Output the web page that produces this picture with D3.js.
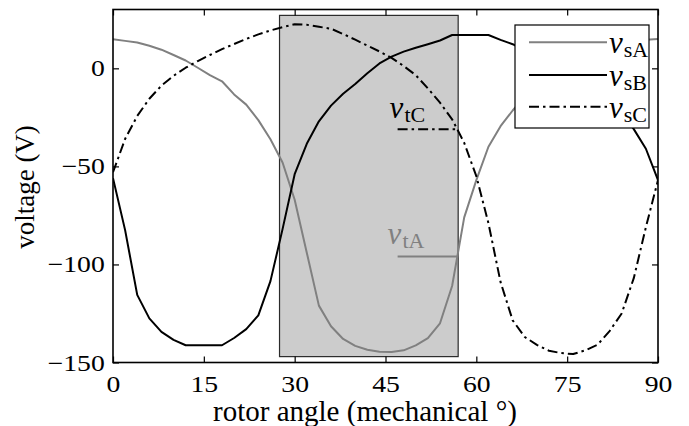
<!DOCTYPE html>
<html>
<head>
<meta charset="utf-8">
<script src="https://cdn.jsdelivr.net/npm/d3@7/dist/d3.min.js"></script>
<style>
  body { margin: 0; background: #fff; }
  svg { display: block; }
  svg text { font-family: "Liberation Serif", "Times New Roman", Times, serif; }
</style>
</head>
<body>
<svg id="chart" width="689" height="426"></svg>
<script>
// Rotor angle samples (mechanical degrees)
const angles = [0, 2, 4, 6, 8, 10, 12, 14, 16, 18, 20, 22, 24, 26, 28, 30, 32, 34, 36, 38, 40, 42, 44,
  46, 48, 50, 52, 54, 56, 58, 60, 62, 64, 66, 68, 70, 72, 74, 76, 78, 80, 82, 84, 86, 88, 90];

// Stator phase voltages (V)
const vsA = [14.8, 14.0, 13.2, 11.5, 9.5, 6.8, 4.0, 0.3, -3.5, -6.6, -13.3, -18.5, -26.4, -36.2, -48, -67,
  -94, -121, -131.5, -138, -141.5, -143.5, -144.5, -144.6, -143.8, -141.3, -137.6, -130, -111, -76,
  -57, -40, -29.5, -21.5, -14.5, -8.5, -3.5, 1, 4.5, 7.5, 10, 12, 13.5, 14.5, 14.6, 15];
const vsB = [-56, -82.5, -115.5, -127.5, -134.4, -138.5, -141.2, -141.2, -141.2, -141.2, -137.5, -133, -126,
  -108.5, -82, -54, -38.5, -27, -19, -13, -8, -2.5, 2.5, 6, 8.5, 10.5, 12.3, 14.2, 17, 17, 17, 17,
  14.5, 12.3, 9, 6.5, 3.5, 0, -3.5, -7, -12, -17, -23, -31, -41, -57];
const vsC = [-53, -36, -24.3, -15.5, -8.8, -3.8, 0.3, 3.7, 6.8, 9.8, 12.4, 15, 17.3, 19.3, 21, 22.5, 22.2,
  21.2, 20.2, 17.5, 14.6, 11.6, 8.6, 5.3, 1.2, -3.5, -10.2, -17.5, -26, -38, -55, -79, -109, -128.5,
  -137, -141, -144, -145.2, -145.7, -143.8, -141, -134, -125, -107, -81, -57];

// Shaded conduction window and the terminal voltage levels inside it
const windowAngles = [27.5, 57];
const windowVolts = [27, -147];
const markAngles = [47, 57];
const vtA = -96;
const vtC = -31;

// Axis ticks
const xTicks = [0, 15, 30, 45, 60, 75, 90];
const yTicks = [-150, -100, -50, 0];

const seriesNames = ["sA", "sB", "sC"];
const seriesValues = [vsA, vsB, vsC];
const seriesColor = ["#808080", "#000000", "#000000"];
const seriesDash = [null, null, "10,4,2.5,4"];

const serif = '"Liberation Serif", "Times New Roman", Times, serif';
const svg = d3.select("#chart");
const plotLeft = 113, plotRight = 658, plotTop = 9.5, plotBottom = 362.5;

const x = d3.scaleLinear().domain([0, 90]).range([plotLeft, plotRight]);
const y = d3.scaleLinear().domain([-150, 30]).range([plotBottom, plotTop]);

svg.append("rect").attr("width", 689).attr("height", 426).attr("fill", "#fff");

svg.append("clipPath").attr("id", "plot-clip")
  .append("rect").attr("x", plotLeft).attr("y", plotTop)
  .attr("width", plotRight - plotLeft).attr("height", plotBottom - plotTop);

// Shaded window
svg.append("rect")
  .attr("x", x(windowAngles[0])).attr("y", y(windowVolts[0]))
  .attr("width", x(windowAngles[1]) - x(windowAngles[0]))
  .attr("height", y(windowVolts[1]) - y(windowVolts[0]))
  .attr("fill", "#cccccc").attr("stroke", "#2a2a2a").attr("stroke-width", 1.2);

// Phase voltage curves
const line = d3.line().x((d, i) => x(angles[i])).y(d => y(d));
const plot = svg.append("g").attr("clip-path", "url(#plot-clip)");
seriesValues.forEach((vals, k) => {
  plot.append("path").datum(vals)
    .attr("d", line)
    .attr("fill", "none")
    .attr("stroke", seriesColor[k])
    .attr("stroke-width", 2)
    .attr("stroke-linejoin", "round")
    .attr("stroke-dasharray", seriesDash[k]);
});

// Axes with inward ticks on all four sides
const tickLen = 6;
const tickStretch = 1.18;   // tick numerals are set slightly wide
const xb = d3.axisBottom(x).tickValues(xTicks).tickSizeInner(-tickLen).tickSizeOuter(0).tickPadding(13);
const xt = d3.axisTop(x).tickValues(xTicks).tickSizeInner(-tickLen).tickSizeOuter(0).tickFormat("");
const yl = d3.axisLeft(y).tickValues(yTicks).tickSizeInner(-tickLen).tickSizeOuter(0).tickPadding(7);
const yr = d3.axisRight(y).tickValues(yTicks).tickSizeInner(-tickLen).tickSizeOuter(0).tickFormat("");

function styleAxis(g) {
  g.attr("font-family", serif).attr("font-size", 23.5);
  g.select(".domain").remove();
  g.selectAll(".tick line").attr("stroke", "#000").attr("stroke-width", 1.2);
  g.selectAll(".tick text").attr("fill", "#000")
    .attr("transform", `scale(${tickStretch},1)`);
}
const gxb = svg.append("g").attr("transform", `translate(0,${plotBottom})`).call(xb).call(styleAxis);
gxb.selectAll(".tick text").attr("dy", "0.71em");
svg.append("g").attr("transform", `translate(0,${plotTop})`).call(xt).call(styleAxis);
svg.append("g").attr("transform", `translate(${plotLeft},0)`).call(yl).call(styleAxis);
svg.append("g").attr("transform", `translate(${plotRight},0)`).call(yr).call(styleAxis);

svg.append("rect")
  .attr("x", plotLeft).attr("y", plotTop)
  .attr("width", plotRight - plotLeft).attr("height", plotBottom - plotTop)
  .attr("fill", "none").attr("stroke", "#000").attr("stroke-width", 1.6);

// Axis titles
svg.append("text")
  .attr("x", 365).attr("y", 421)
  .attr("text-anchor", "middle")
  .attr("font-family", serif)
  .attr("font-size", 29)
  .text("rotor angle (mechanical °)");

svg.append("text")
  .attr("transform", "translate(34,187) rotate(-90)")
  .attr("text-anchor", "middle")
  .attr("font-family", serif)
  .attr("font-size", 27)
  .text("voltage (V)");

// Math-style label: italic v with upright subscript
function mathLabel(g, px, py, sub, color) {
  const t = g.append("text")
    .attr("x", px).attr("y", py)
    .attr("fill", color)
    .attr("font-family", serif);
  t.append("tspan").attr("font-style", "italic").attr("font-size", 31).text("v");
  t.append("tspan").attr("dx", 1).attr("dy", 4).attr("font-size", 22).text(sub);
  return t;
}

// Terminal voltage markers inside the window
svg.append("line")
  .attr("x1", x(markAngles[0])).attr("x2", x(markAngles[1]))
  .attr("y1", y(vtC)).attr("y2", y(vtC))
  .attr("stroke", "#000").attr("stroke-width", 2).attr("stroke-dasharray", "10,4,2.5,4");
svg.append("line")
  .attr("x1", x(markAngles[0])).attr("x2", x(markAngles[1]))
  .attr("y1", y(vtA)).attr("y2", y(vtA))
  .attr("stroke", "#808080").attr("stroke-width", 2);
mathLabel(svg, x(markAngles[0]) - 8, y(vtC) - 11, "tC", "#000");
mathLabel(svg, x(markAngles[0]) - 10, y(vtA) - 13, "tA", "#808080");

// Legend
const lg = svg.append("g");
lg.append("rect").attr("x", 515).attr("y", 25).attr("width", 134).attr("height", 103)
  .attr("fill", "#fff").attr("stroke", "#000").attr("stroke-width", 1.2);
const rowY = [42.3, 75, 106.7];
seriesNames.forEach((name, k) => {
  lg.append("line")
    .attr("x1", 529).attr("x2", 607).attr("y1", rowY[k]).attr("y2", rowY[k])
    .attr("stroke", seriesColor[k]).attr("stroke-width", 2)
    .attr("stroke-dasharray", seriesDash[k]);
  mathLabel(lg, 609, rowY[k] + 11, name, "#000");
});
</script>
</body>
</html>
